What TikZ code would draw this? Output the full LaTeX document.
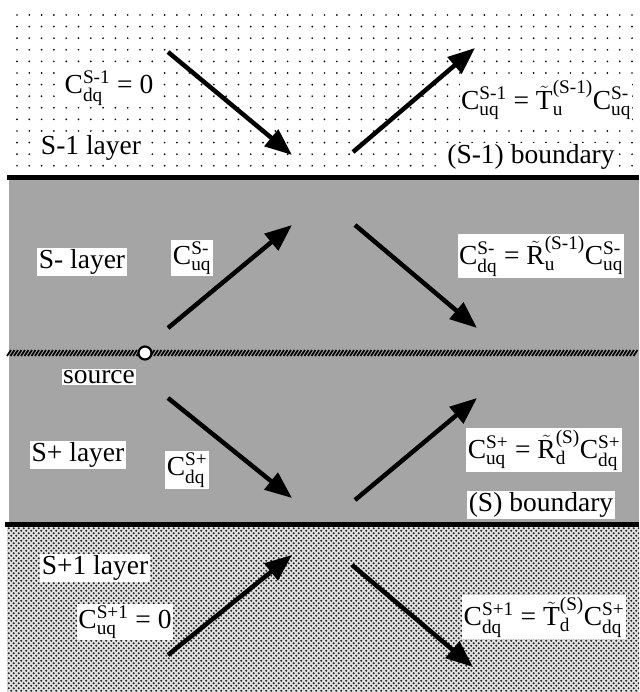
\documentclass[tikz,border=0pt]{standalone}
\usepackage{fontspec}
\usepackage{amsmath}
\setmainfont{Liberation Serif}
\usetikzlibrary{arrows.meta,patterns}
\pgfdeclarepatternformonly{coarsedots}{\pgfqpoint{-1pt}{-1pt}}{\pgfqpoint{6pt}{6pt}}{\pgfqpoint{5pt}{5pt}}{%
  \pgfpathcircle{\pgfqpoint{1.25pt}{1.25pt}}{1.05pt}%
  \pgfpathcircle{\pgfqpoint{3.75pt}{3.75pt}}{1.05pt}%
  \pgfusepath{fill}}
\newcommand\CC[2]{\text{C}^{\text{#1}}_{\text{#2}}}
\newcommand\eqs{\mathrel{\text{=}}}
\definecolor{midgray}{RGB}{165,165,165}
\definecolor{lowgray}{RGB}{225,225,225}
\begin{document}
\begin{tikzpicture}[x=1pt,y=-1pt,
  lbl/.style={fill=white,inner sep=1.5pt,font=\fontsize{27.5}{30}\selectfont},
  ray/.style={line width=4.5pt,-{Triangle[length=27pt,width=21pt]}},
  bnd/.style={line width=5pt}]
\useasboundingbox (0,0) rectangle (639,692);
\fill[white] (0,0) rectangle (639,692);
% top dotted layer
\foreach \i in {0,...,50} \foreach \j in {0,...,13}
  \fill (17+12.3*\i,15+11.6*\j) circle (0.95);
% middle gray layers
\fill[midgray] (9,180) rectangle (639,522);
% bottom layer
\fill[lowgray] (7,526) rectangle (639,692);
\fill[pattern=coarsedots,pattern color=black!85] (7,526) rectangle (639,692);
% boundaries
\coordinate (b1l) at (7,177.5);  \coordinate (b1r) at (639,177.5);
\coordinate (b2l) at (5,524);    \coordinate (b2r) at (639,524);
\draw[bnd] (b1l) -- (b1r);
\draw[bnd] (b2l) -- (b2r);
% source plane
\foreach \x in {7,10.5,...,636} \draw[line width=1.7pt] (\x,356) -- (\x+4,350);
\node[circle,draw,fill=white,line width=2.2pt,minimum size=13pt,inner sep=0pt] (src) at (145,353) {};
% arrows
\coordinate (a1s) at (168,52);  \coordinate (a1e) at (292,155);
\coordinate (a2s) at (353,152); \coordinate (a2e) at (475,48);
\coordinate (a3s) at (168,328); \coordinate (a3e) at (292,225);
\coordinate (a4s) at (355,225); \coordinate (a4e) at (477,328);
\coordinate (a5s) at (168,398); \coordinate (a5e) at (292,498);
\coordinate (a6s) at (355,500); \coordinate (a6e) at (477,398);
\coordinate (a7s) at (168,655); \coordinate (a7e) at (292,555);
\coordinate (a8s) at (352,565); \coordinate (a8e) at (473,667);
\foreach \k in {1,...,8} \draw[ray] (a\k s) -- (a\k e);
% labels
\node[lbl] (l1) at (109,88) {$\CC{S-1}{dq} \eqs \text{0}$};
\node[lbl] (l2) at (91,148) {S-1 layer};
\node[lbl] (l3) at (546,100) {$\CC{S-1}{uq} \eqs \tilde{\text{T}}^{\text{(S-1)}}_{\text{u}}\CC{S-}{uq}$};
\node[lbl] (l4) at (531,157) {(S-1) boundary};
\node[lbl] (l5) at (82,262) {S- layer};
\node[lbl] (l6) at (192,258) {$\CC{S-}{uq}$};
\node[lbl] (l7) at (541,256) {$\CC{S-}{dq} \eqs \tilde{\text{R}}^{\text{(S-1)}}_{\text{u}}\CC{S-}{uq}$};
\node[lbl] (l8) at (99,377) {source};
\node[lbl] (l9) at (78,455) {S+ layer};
\node[lbl] (l10) at (187,470) {$\CC{S+}{dq}$};
\node[lbl] (l11) at (544,450) {$\CC{S+}{uq} \eqs \tilde{\text{R}}^{\text{(S)}}_{\text{d}}\CC{S+}{dq}$};
\node[lbl] (l12) at (541,505) {(S) boundary};
\node[lbl] (l13) at (95,568) {S+1 layer};
\node[lbl] (l14) at (125,622) {$\CC{S+1}{uq} \eqs \text{0}$};
\node[lbl] (l15) at (544,617) {$\CC{S+1}{dq} \eqs \tilde{\text{T}}^{\text{(S)}}_{\text{d}}\CC{S+}{dq}$};
\end{tikzpicture}
\end{document}
